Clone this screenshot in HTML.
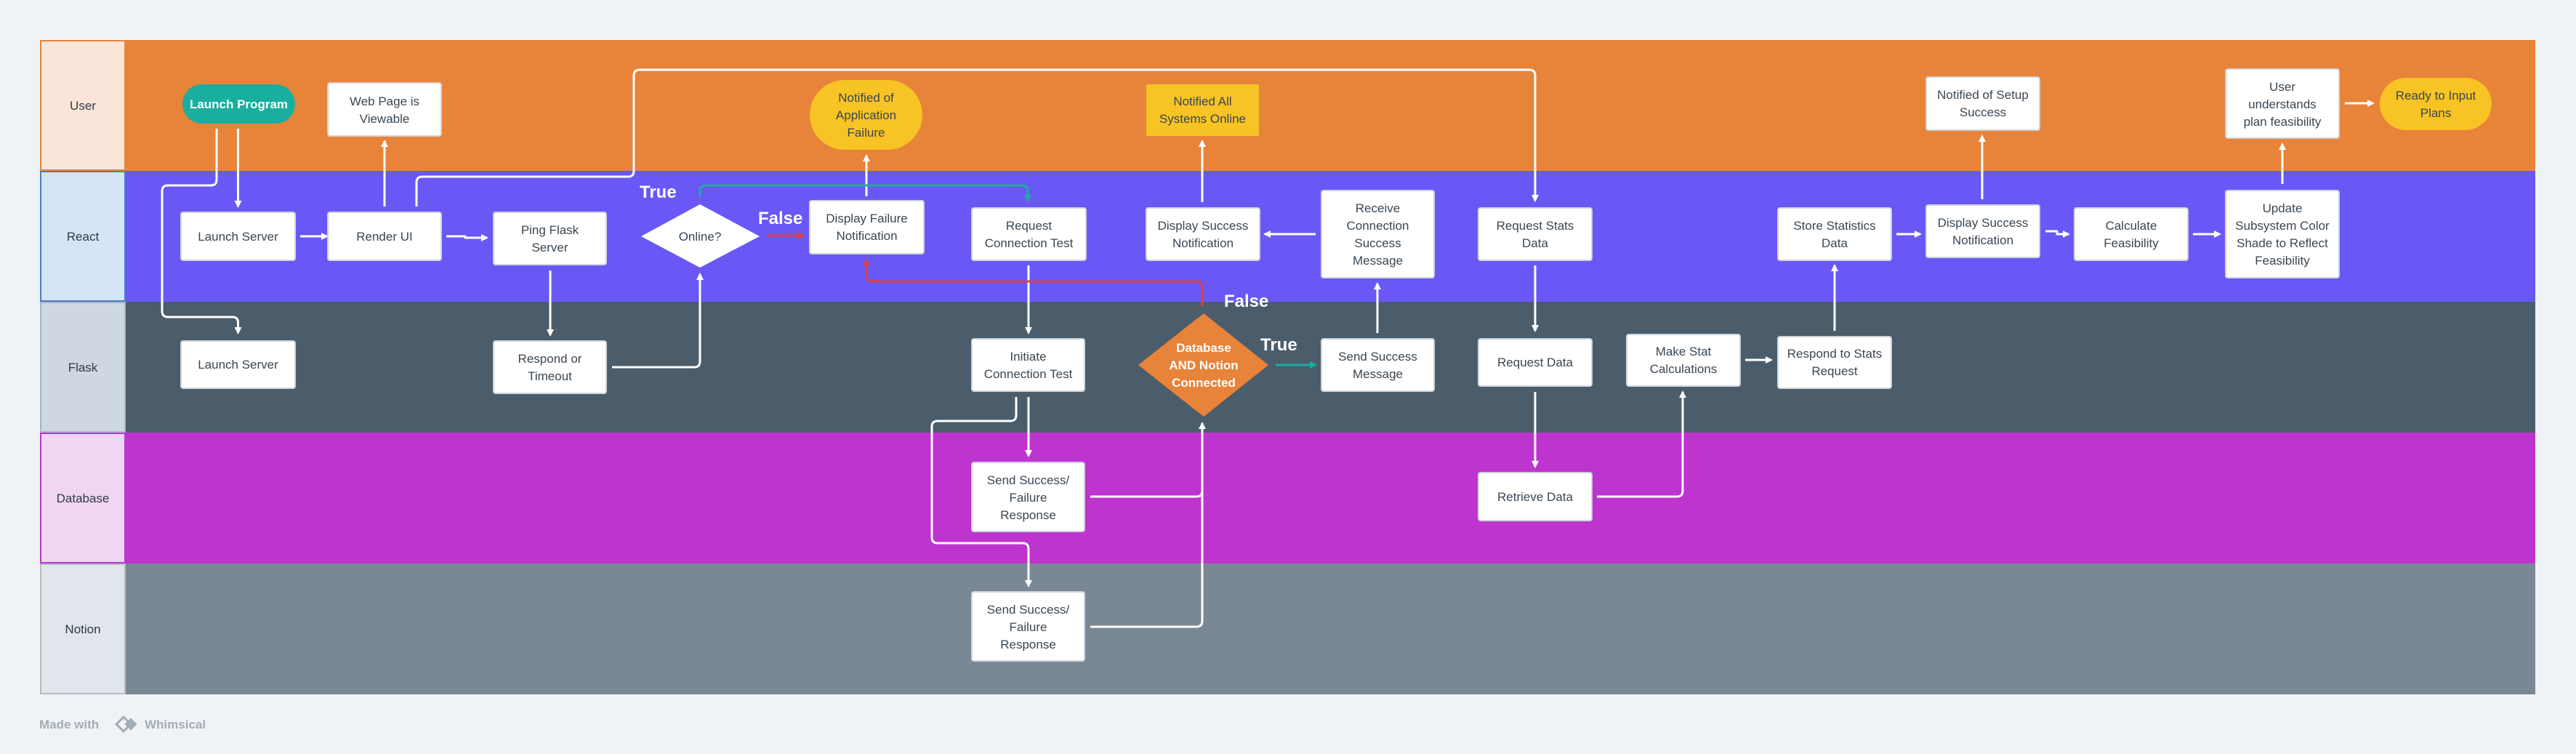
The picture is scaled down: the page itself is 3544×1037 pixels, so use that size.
<!DOCTYPE html>
<html><head><meta charset="utf-8"><style>
html,body{margin:0;padding:0;background:#f0f3f6;}
svg{display:block;}
text{font-family:"Liberation Sans",sans-serif;}
</style></head><body>
<svg width="3544" height="1037" viewBox="0 0 3544 1037" xmlns="http://www.w3.org/2000/svg">
<defs>
<marker id="aw" viewBox="0 0 10 10" refX="8" refY="5" markerWidth="10" markerHeight="10" markerUnits="userSpaceOnUse" orient="auto"><path d="M0,0 L10,5 L0,10 z" fill="#fff"/></marker>
<marker id="ar" viewBox="0 0 10 10" refX="8" refY="5" markerWidth="10" markerHeight="10" markerUnits="userSpaceOnUse" orient="auto"><path d="M0,0 L10,5 L0,10 z" fill="#d9434f"/></marker>
<marker id="ag" viewBox="0 0 10 10" refX="8" refY="5" markerWidth="10" markerHeight="10" markerUnits="userSpaceOnUse" orient="auto"><path d="M0,0 L10,5 L0,10 z" fill="#1aae9f"/></marker>
</defs>
<!-- lanes -->
<rect x="172" y="55" width="3316" height="180" fill="#e8833a"/>
<rect x="172" y="235" width="3316" height="180" fill="#6958f5"/>
<rect x="172" y="415" width="3316" height="180" fill="#4b5d6b"/>
<rect x="172" y="595" width="3316" height="180" fill="#bd34cf"/>
<rect x="172" y="775" width="3316" height="180" fill="#7a8896"/>
<rect x="56" y="56" width="116" height="178" fill="#fae6d8" stroke="#e8833a" stroke-width="2"/>
<rect x="56" y="236" width="116" height="178" fill="#d6e5f5" stroke="#4a7fc0" stroke-width="2"/>
<rect x="56" y="416" width="116" height="178" fill="#cfd8e0" stroke="#a9b4bf" stroke-width="2"/>
<rect x="56" y="596" width="116" height="178" fill="#f1d6f3" stroke="#bd34cf" stroke-width="2"/>
<rect x="56" y="776" width="116" height="178" fill="#e1e5ec" stroke="#b5bcc6" stroke-width="2"/>
<g font-size="17" fill="#2d3a46" text-anchor="middle">
<text x="114" y="151">User</text><text x="114" y="331">React</text><text x="114" y="511">Flask</text><text x="114" y="691">Database</text><text x="114" y="871">Notion</text>
</g>

<!-- connectors -->
<g fill="none" stroke="#fff" stroke-width="3" stroke-linejoin="round">
<path d="M327.5,177 V284" marker-end="url(#aw)"/>
<path d="M298,177 V247 Q298,255 290,255 H231 Q223,255 223,263 V428 Q223,436 231,436 H320 Q327.5,436 327.5,444 V458" marker-end="url(#aw)"/>
<path d="M413,325 H450" marker-end="url(#aw)"/>
<path d="M529,284 V194" marker-end="url(#aw)"/>
<path d="M614,325 H640 V327 H670" marker-end="url(#aw)"/>
<path d="M573,284 V251 Q573,243 581,243 H864 Q872,243 872,235 V104 Q872,96 880,96 H2104 Q2112,96 2112,104 V276" marker-end="url(#aw)"/>
<path d="M757,372 V461" marker-end="url(#aw)"/>
<path d="M842,505 H955 Q963,505 963,497 V377" marker-end="url(#aw)"/>
<path d="M1192,270 V214" marker-end="url(#aw)"/>
<path d="M1415,365 V458" marker-end="url(#aw)"/>
<path d="M1415,546 V627" marker-end="url(#aw)"/>
<path d="M1398,546 V571 Q1398,579 1390,579 H1290 Q1282,579 1282,587 V739 Q1282,747 1290,747 H1407 Q1415,747 1415,755 V806" marker-end="url(#aw)"/>
<path d="M1500,683 H1646 Q1654,683 1654,675 V582" marker-end="url(#aw)"/>
<path d="M1500,862 H1646 Q1654,862 1654,854 V582"/>
<path d="M1895,458 V390" marker-end="url(#aw)"/>
<path d="M1810,322 H1740" marker-end="url(#aw)"/>
<path d="M1654,278 V194" marker-end="url(#aw)"/>
<path d="M2112,365 V455" marker-end="url(#aw)"/>
<path d="M2112,539 V642" marker-end="url(#aw)"/>
<path d="M2197,683 H2307 Q2315,683 2315,675 V539" marker-end="url(#aw)"/>
<path d="M2401,495 H2437" marker-end="url(#aw)"/>
<path d="M2524,455 V365" marker-end="url(#aw)"/>
<path d="M2609,322 H2642" marker-end="url(#aw)"/>
<path d="M2727,274 V187" marker-end="url(#aw)"/>
<path d="M2814,318 H2830 V322 H2846" marker-end="url(#aw)"/>
<path d="M3017,322 H3054" marker-end="url(#aw)"/>
<path d="M3140,253 V198" marker-end="url(#aw)"/>
<path d="M3226,142 H3265" marker-end="url(#aw)"/>
</g>
<path d="M1055,324 H1106" fill="none" stroke="#d9434f" stroke-width="3" marker-end="url(#ar)"/>
<path d="M1654,421 V395 Q1654,387 1646,387 H1200 Q1192,387 1192,379 V357" fill="none" stroke="#d9434f" stroke-width="3" marker-end="url(#ar)"/>
<path d="M963,271 V263 Q963,255 971,255 H1406 Q1414,255 1414,263 V276" fill="none" stroke="#1aae9f" stroke-width="3" marker-end="url(#ag)"/>
<path d="M1755,502 H1810" fill="none" stroke="#1aae9f" stroke-width="3" marker-end="url(#ag)"/>

<g font-size="24" fill="#fff" font-weight="bold">
<text x="880" y="272">True</text><text x="1043" y="308">False</text>
<text x="1684" y="422">False</text><text x="1734" y="482">True</text>
</g>

<!-- nodes -->
<g stroke="#cfd5dc" stroke-width="2" fill="#fff">
<rect x="451" y="114" width="156" height="73" rx="3"/>
<rect x="249" y="292" width="157" height="66" rx="3"/>
<rect x="451" y="292" width="156" height="66" rx="3"/>
<rect x="679" y="292" width="155" height="72" rx="3"/>
<rect x="249" y="469" width="157" height="65" rx="3"/>
<rect x="679" y="469" width="155" height="72" rx="3"/>
<rect x="1114" y="276" width="157" height="73" rx="3"/>
<rect x="1337" y="286" width="157" height="72" rx="3"/>
<rect x="1577" y="286" width="156" height="72" rx="3"/>
<rect x="1818" y="262" width="155" height="120" rx="3"/>
<rect x="2034" y="286" width="156" height="72" rx="3"/>
<rect x="1337" y="466" width="155" height="72" rx="3"/>
<rect x="1818" y="466" width="155" height="72" rx="3"/>
<rect x="2034" y="466" width="156" height="65" rx="3"/>
<rect x="2238" y="460" width="156" height="71" rx="3"/>
<rect x="1337" y="636" width="155" height="95" rx="3"/>
<rect x="2034" y="650" width="156" height="66" rx="3"/>
<rect x="1337" y="814" width="155" height="95" rx="3"/>
<rect x="2446" y="463" width="156" height="71" rx="3"/>
<rect x="2446" y="286" width="156" height="72" rx="3"/>
<rect x="2650" y="282" width="156" height="72" rx="3"/>
<rect x="2650" y="106" width="156" height="73" rx="3"/>
<rect x="2854" y="286" width="156" height="72" rx="3"/>
<rect x="3062" y="262" width="156" height="120" rx="3"/>
<rect x="3062" y="95" width="156" height="95" rx="3"/>
</g>
<polygon points="882,325 963,281 1045,325 963,368" fill="#fff"/>
<rect x="251" y="116" width="155" height="54" rx="27" fill="#1aae9f"/>
<rect x="1114" y="110" width="155" height="96" rx="48" fill="#f7c325"/>
<rect x="1577" y="116" width="155" height="71" rx="2" fill="#f7c325"/>
<rect x="3274" y="107" width="154" height="72" rx="36" fill="#f7c325"/>
<polygon points="1566,502 1656,431 1745,502 1656,573" fill="#e8833a"/>

<g font-size="17" fill="#3a4651" text-anchor="middle">
<text x="529" y="145">Web Page is<tspan x="529" dy="24">Viewable</tspan></text>
<text x="327.5" y="331">Launch Server</text>
<text x="529" y="331">Render UI</text>
<text x="756.5" y="322">Ping Flask<tspan x="756.5" dy="24">Server</tspan></text>
<text x="963" y="331">Online?</text>
<text x="327.5" y="507">Launch Server</text>
<text x="756.5" y="499">Respond or<tspan x="756.5" dy="24">Timeout</tspan></text>
<text x="1192.5" y="306">Display Failure<tspan x="1192.5" dy="24">Notification</tspan></text>
<text x="1191.5" y="140">Notified of<tspan x="1191.5" dy="24">Application</tspan><tspan x="1191.5" dy="24">Failure</tspan></text>
<text x="1415.5" y="316">Request<tspan x="1415.5" dy="24">Connection Test</tspan></text>
<text x="1654.5" y="145">Notified All<tspan x="1654.5" dy="24">Systems Online</tspan></text>
<text x="1655" y="316">Display Success<tspan x="1655" dy="24">Notification</tspan></text>
<text x="1895.5" y="292">Receive<tspan x="1895.5" dy="24">Connection</tspan><tspan x="1895.5" dy="24">Success</tspan><tspan x="1895.5" dy="24">Message</tspan></text>
<text x="2112" y="316">Request Stats<tspan x="2112" dy="24">Data</tspan></text>
<text x="1414.5" y="496">Initiate<tspan x="1414.5" dy="24">Connection Test</tspan></text>
<text x="1895.5" y="496">Send Success<tspan x="1895.5" dy="24">Message</tspan></text>
<text x="2112" y="504">Request Data</text>
<text x="2316" y="489">Make Stat<tspan x="2316" dy="24">Calculations</tspan></text>
<text x="1414.5" y="666">Send Success/<tspan x="1414.5" dy="24">Failure</tspan><tspan x="1414.5" dy="24">Response</tspan></text>
<text x="2112" y="689">Retrieve Data</text>
<text x="1414.5" y="844">Send Success/<tspan x="1414.5" dy="24">Failure</tspan><tspan x="1414.5" dy="24">Response</tspan></text>
<text x="2524" y="492">Respond to Stats<tspan x="2524" dy="24">Request</tspan></text>
<text x="2524" y="316">Store Statistics<tspan x="2524" dy="24">Data</tspan></text>
<text x="2728" y="312">Display Success<tspan x="2728" dy="24">Notification</tspan></text>
<text x="2728" y="136">Notified of Setup<tspan x="2728" dy="24">Success</tspan></text>
<text x="2932" y="316">Calculate<tspan x="2932" dy="24">Feasibility</tspan></text>
<text x="3140" y="292">Update<tspan x="3140" dy="24">Subsystem Color</tspan><tspan x="3140" dy="24">Shade to Reflect</tspan><tspan x="3140" dy="24">Feasibility</tspan></text>
<text x="3140" y="125">User<tspan x="3140" dy="24">understands</tspan><tspan x="3140" dy="24">plan feasibility</tspan></text>
<text x="3351" y="137">Ready to Input<tspan x="3351" dy="24">Plans</tspan></text>
</g>
<text x="328.5" y="149" font-size="17" font-weight="bold" fill="#fff" text-anchor="middle">Launch Program</text>
<text x="1656" y="484" font-size="17" font-weight="bold" fill="#fff" text-anchor="middle">Database<tspan x="1656" dy="24">AND Notion</tspan><tspan x="1656" dy="24">Connected</tspan></text>

<!-- footer -->
<text x="54" y="1002" font-size="17" font-weight="bold" fill="#a3acb6">Made with</text>
<g transform="translate(170,996) rotate(45)"><rect x="-7" y="-7" width="14" height="14" fill="none" stroke="#a3acb6" stroke-width="3"/></g>
<g transform="translate(180,996) rotate(45)"><rect x="-6" y="-6" width="12" height="12" fill="#a3acb6"/></g>
<text x="199" y="1002" font-size="17" font-weight="bold" fill="#a3acb6">Whimsical</text>
</svg>
</body></html>
